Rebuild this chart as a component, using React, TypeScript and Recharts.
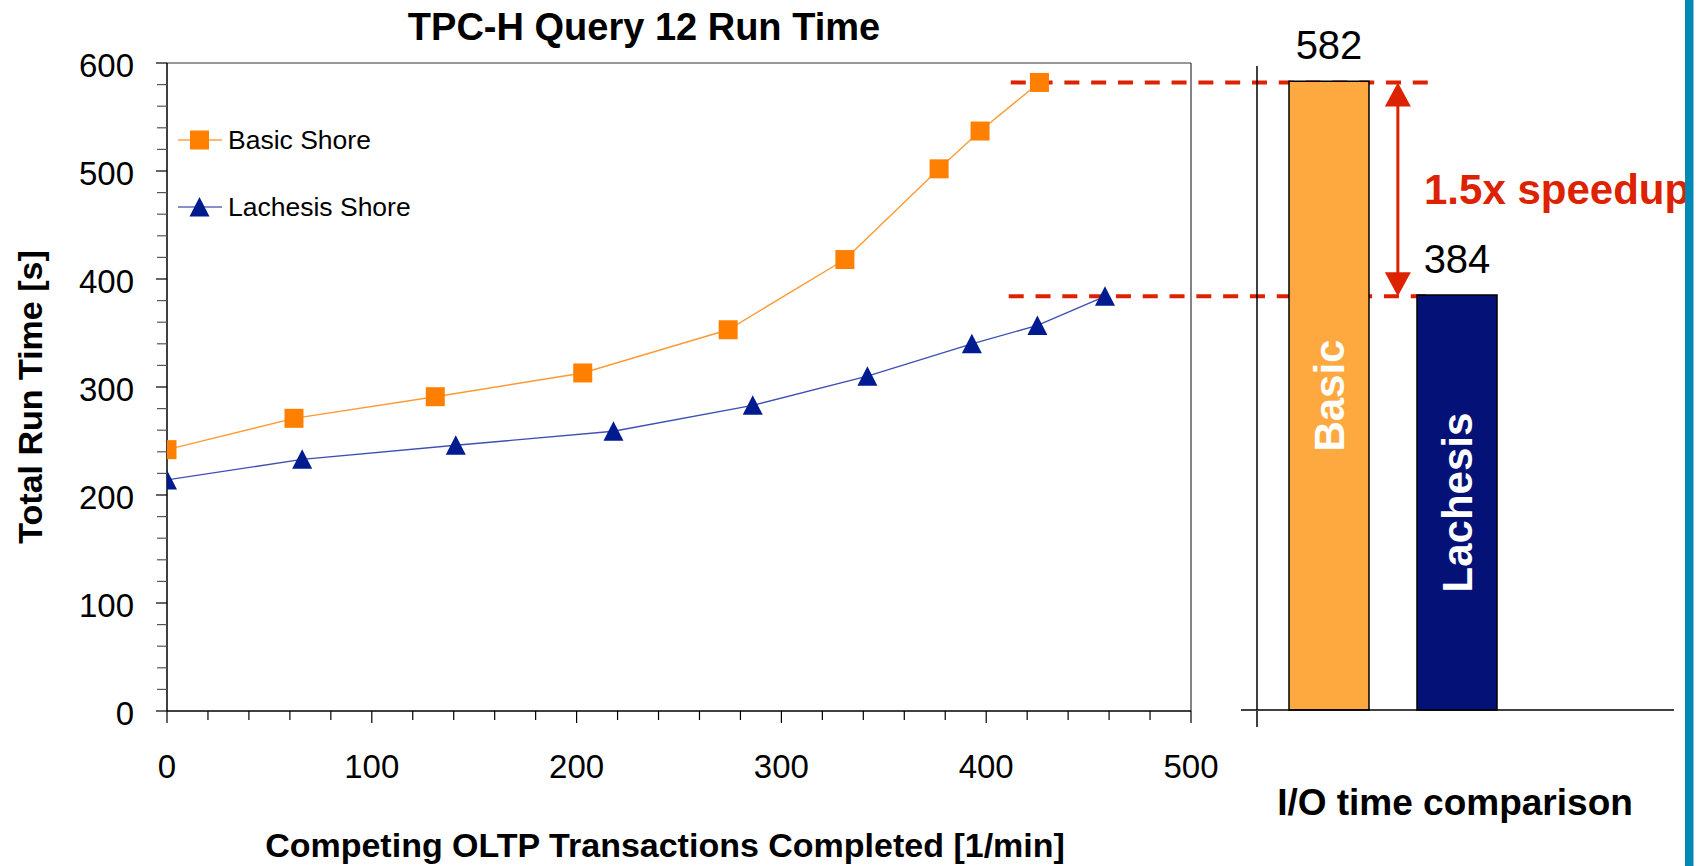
import React from "react";
import {
  LineChart,
  Line,
  XAxis,
  YAxis,
  ReferenceLine,
  Legend,
  BarChart,
  Bar,
  Cell,
  LabelList,
} from "recharts";

const FONT = '"Liberation Sans", Arial, Helvetica, sans-serif';

// left panel: run time vs. competing OLTP load
const basicTx = [0, 62, 131, 203, 274, 331, 377, 397, 426];
const basicTime = [242, 271, 291, 313, 353, 418, 502, 537, 582];
const lachesisTx = [0, 66, 141, 218, 286, 342, 393, 425, 458];
const lachesisTime = [214, 233, 246, 259, 283, 310, 340, 357, 384];

const xTicks = [0, 20, 40, 60, 80, 100, 120, 140, 160, 180, 200, 220, 240, 260, 280, 300, 320, 340, 360, 380, 400, 420, 440, 460, 480, 500];
const yTicks = [0, 20, 40, 60, 80, 100, 120, 140, 160, 180, 200, 220, 240, 260, 280, 300, 320, 340, 360, 380, 400, 420, 440, 460, 480, 500, 520, 540, 560, 580, 600];

// right panel: I/O time comparison
const ioCategories = ["Basic", "Lachesis"];
const ioTimes = [582, 384];
const ioColors = ["#fea940", "#041277"];

const basicData = basicTx.map((tx, i) => ({ tx, time: basicTime[i] }));
const lachesisData = lachesisTx.map((tx, i) => ({ tx, time: lachesisTime[i] }));
const ioData = ioCategories.map((name, i) => ({ name, time: ioTimes[i] }));

const RED = "#dc2200";

const SquareDot = (props: any) => {
  const { cx, cy } = props;
  if (cx == null || cy == null) return <g />;
  return <rect x={cx - 9.5} y={cy - 9.5} width={19} height={19} fill="#ff8000" />;
};

const TriangleDot = (props: any) => {
  const { cx, cy } = props;
  if (cx == null || cy == null) return <g />;
  return (
    <polygon
      points={`${cx},${cy - 10} ${cx - 10},${cy + 9.5} ${cx + 10},${cy + 9.5}`}
      fill="#001b8f"
    />
  );
};

const XTick = (props: any) => {
  const { x, y, payload } = props;
  const major = payload.value % 100 === 0;
  return (
    <g>
      <line x1={x} x2={x} y1={y} y2={y + (major ? 12 : 9)} stroke="#000" strokeWidth={1.2} />
      {major && (
        <text x={x} y={y + 67} textAnchor="middle" fontSize={33} fill="#000">
          {payload.value}
        </text>
      )}
    </g>
  );
};

const YTick = (props: any) => {
  const { x, y, payload } = props;
  const major = payload.value % 100 === 0;
  return (
    <g>
      <line x1={x - (major ? 11 : 10)} x2={x} y1={y} y2={y} stroke={major ? "#000" : "#555"} strokeWidth={1.2} />
      {major && (
        <text x={x - 33} y={y + 2} dy="0.355em" textAnchor="end" fontSize={33} fill="#000">
          {payload.value}
        </text>
      )}
    </g>
  );
};

// tick marks only, no labels: a 16px stub at the origin of the bar panel
const StubTickX = (props: any) => (
  <line x1={props.x} x2={props.x} y1={props.y} y2={props.y + 16} stroke="#000" strokeWidth={1.5} />
);
const StubTickY = (props: any) => (
  <line x1={props.x - 16} x2={props.x} y1={props.y} y2={props.y} stroke="#000" strokeWidth={1.5} />
);
const NoTick = () => <g />;

const SpeedupArrow = (props: any) => {
  const { x1, y1, x2, y2 } = props;
  const top = Math.min(y1, y2);
  const bottom = Math.max(y1, y2);
  const x = (x1 + x2) / 2;
  return (
    <g>
      <line x1={x} x2={x} y1={top + 20} y2={bottom - 20} stroke={RED} strokeWidth={3} />
      <polygon points={`${x},${top} ${x - 13},${top + 24} ${x + 13},${top + 24}`} fill={RED} />
      <polygon points={`${x},${bottom} ${x - 13},${bottom - 24} ${x + 13},${bottom - 24}`} fill={RED} />
    </g>
  );
};

const legendItems = [
  { label: "Basic Shore", line: "#ffb870", marker: "square", cy: 20 },
  { label: "Lachesis Shore", line: "#8890cc", marker: "triangle", cy: 87 },
];

const renderLegend = () => (
  <div style={{ position: "relative", width: 260, height: 110, fontFamily: FONT }}>
    {legendItems.map((it) => (
      <div
        key={it.label}
        style={{ position: "absolute", left: 0, top: it.cy - 12, height: 24, display: "flex", alignItems: "center" }}
      >
        <svg width={44} height={24}>
          <line x1={0} x2={44} y1={12} y2={12} stroke={it.line} strokeWidth={2} />
          {it.marker === "square" ? (
            <rect x={12} y={2.5} width={19} height={19} fill="#ff8000" />
          ) : (
            <polygon points="21.5,2 11.5,21.5 31.5,21.5" fill="#001b8f" />
          )}
        </svg>
        <span style={{ marginLeft: 6, fontSize: 26.5, lineHeight: "24px", color: "#000", whiteSpace: "nowrap" }}>
          {it.label}
        </span>
      </div>
    ))}
  </div>
);

export default function App() {
  return (
    <div
      style={{
        position: "absolute",
        left: 0,
        top: 0,
        width: 1704,
        height: 866,
        background: "#fff",
        fontFamily: FONT,
        overflow: "hidden",
      }}
    >
      <div style={{ position: "absolute", left: 0, top: 0 }}>
        <LineChart width={1704} height={866} margin={{ top: 63, right: 513, bottom: 105, left: 0 }}>
          <XAxis
            type="number"
            dataKey="tx"
            domain={[0, 500]}
            ticks={xTicks}
            interval={0}
            height={50}
            tickSize={0}
            tickMargin={0}
            tickLine={false}
            tick={XTick}
            axisLine={{ stroke: "#000", strokeWidth: 1.5 }}
            allowDataOverflow
          />
          <YAxis
            type="number"
            domain={[0, 600]}
            ticks={yTicks}
            interval={0}
            width={167}
            tickSize={0}
            tickMargin={0}
            tickLine={false}
            tick={YTick}
            axisLine={{ stroke: "#000", strokeWidth: 1.5 }}
            allowDataOverflow
          />
          <ReferenceLine y={600} stroke="#333" strokeWidth={1.2} />
          <ReferenceLine x={500} stroke="#333" strokeWidth={1.2} />
          <Line
            data={basicData}
            dataKey="time"
            type="linear"
            stroke="#ff9a33"
            strokeWidth={1.4}
            dot={SquareDot}
            activeDot={false}
            isAnimationActive={false}
          />
          <Line
            data={lachesisData}
            dataKey="time"
            type="linear"
            stroke="#3e4fb3"
            strokeWidth={1.4}
            dot={TriangleDot}
            activeDot={false}
            isAnimationActive={false}
          />
          <ReferenceLine
            segment={[{ x: 412, y: 582 }, { x: 617, y: 582 }]}
            ifOverflow="visible"
            stroke={RED}
            strokeWidth={4}
            strokeDasharray="15 11.8"
          />
          <ReferenceLine
            segment={[{ x: 411, y: 384 }, { x: 617, y: 384 }]}
            ifOverflow="visible"
            stroke={RED}
            strokeWidth={4}
            strokeDasharray="15 11.8"
          />
          <ReferenceLine
            segment={[{ x: 601, y: 582 }, { x: 601, y: 384 }]}
            ifOverflow="visible"
            shape={SpeedupArrow}
          />
          <Legend
            layout="vertical"
            align="center"
            verticalAlign="middle"
            content={renderLegend}
            wrapperStyle={{ left: 178, top: 120, width: 260, height: 110 }}
          />
        </LineChart>
      </div>

      <div style={{ position: "absolute", left: 1200, top: 0 }}>
        <BarChart width={504} height={866} data={ioData} margin={{ top: 66, right: 30, bottom: 154, left: 20 }}>
          <XAxis
            dataKey="name"
            type="category"
            padding={{ left: 8, right: 153 }}
            height={1}
            tick={NoTick}
            tickLine={false}
            axisLine={{ stroke: "#000", strokeWidth: 1.5 }}
          />
          <XAxis
            xAxisId="stub"
            type="number"
            domain={[0, 1]}
            ticks={[0]}
            height={1}
            tickSize={0}
            tickMargin={0}
            tick={StubTickX}
            tickLine={false}
            axisLine={false}
          />
          <YAxis
            type="number"
            domain={[0, 596]}
            ticks={[0]}
            width={37}
            tickSize={0}
            tickMargin={0}
            tick={StubTickY}
            tickLine={false}
            axisLine={{ stroke: "#000", strokeWidth: 1.5 }}
          />
          <Bar dataKey="time" barSize={80} stroke="#000" strokeWidth={1.5} isAnimationActive={false}>
            {ioData.map((d, i) => (
              <Cell key={d.name} fill={ioColors[i]} />
            ))}
            <LabelList dataKey="time" position="top" offset={22} fill="#000" fontSize={40} fontFamily={FONT} />
            <LabelList
              dataKey="name"
              position="center"
              angle={-90}
              fill="#fff"
              fontSize={42}
              fontWeight="bold"
              fontFamily={FONT}
            />
          </Bar>
        </BarChart>
      </div>

      <svg width={1704} height={866} style={{ position: "absolute", left: 0, top: 0, pointerEvents: "none" }}>
        <text x={644} y={40} textAnchor="middle" fontSize={38} fontWeight="bold" fill="#000">
          TPC-H Query 12 Run Time
        </text>
        <text transform="translate(42, 397) rotate(-90)" textAnchor="middle" fontSize={34} fontWeight="bold" fill="#000">
          Total Run Time [s]
        </text>
        <text x={665} y={857} textAnchor="middle" fontSize={34} fontWeight="bold" fill="#000">
          Competing OLTP Transactions Completed [1/min]
        </text>
        <text x={1455} y={815} textAnchor="middle" fontSize={37} fontWeight="bold" fill="#000">
          I/O time comparison
        </text>
        <text x={1424} y={204} fontSize={42} fontWeight="bold" fill={RED}>
          1.5x speedup
        </text>
        <rect x={1685} y={0} width={8.5} height={866} fill="#0089b5" />
      </svg>
    </div>
  );
}
